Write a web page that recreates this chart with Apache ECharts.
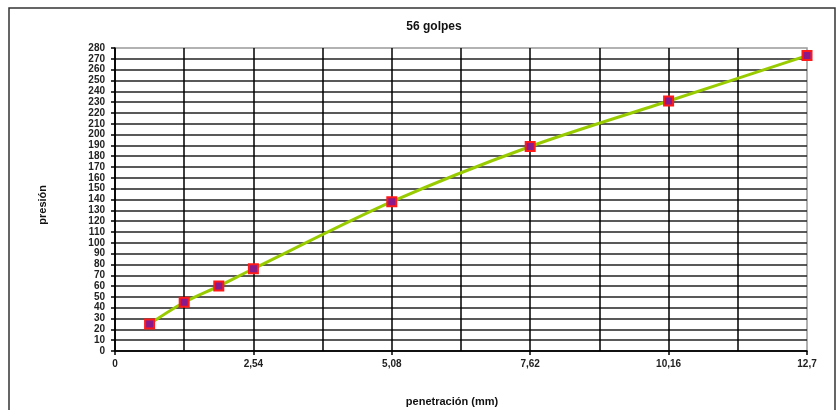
<!DOCTYPE html>
<html>
<head>
<meta charset="utf-8">
<script src="https://cdn.jsdelivr.net/npm/echarts@6/dist/echarts.min.js"></script>
<style>
  html, body { margin: 0; padding: 0; background: #fff; }
  #chart { width: 840px; height: 410px; }
</style>
</head>
<body>
<div id="chart"></div>
<script>
// Penetration (mm) vs pressure, 56 blows
const penetracion = [0.635, 1.27, 1.905, 2.54, 5.08, 7.62, 10.16, 12.7];
const presion = [25, 45, 60, 76, 138, 189, 231, 273];
const xTickLabels = ['0', '2,54', '5,08', '7,62', '10,16', '12,7'];
const xLabelStep = 2.54;

const FONT = '"Liberation Sans", Arial, sans-serif';

const chart = echarts.init(document.getElementById('chart'), null, { renderer: 'canvas' });

chart.setOption({
  animation: false,
  backgroundColor: '#fff',
  title: [
    { text: '56 golpes', left: 429, top: 16, textAlign: 'center',
      textStyle: { fontFamily: FONT, fontSize: 12, fontWeight: 'bold', color: '#111' } },
    { text: 'penetración (mm)', left: 447, top: 391, textAlign: 'center',
      textStyle: { fontFamily: FONT, fontSize: 11, fontWeight: 'bold', color: '#111' } }
  ],
  graphic: [
    { type: 'rect', shape: { x: 9, y: 8, width: 826, height: 420 },
      style: { fill: 'none', stroke: '#333', lineWidth: 1.5 }, z: -1 },
    { type: 'text', left: 37, top: 185, rotation: Math.PI / 2,
      style: { text: 'presión', fontFamily: FONT, fontSize: 11, fontWeight: 'bold', fill: '#111' } }
  ],
  grid: { left: 115, right: 33, top: 48, bottom: 59, show: true,
          borderColor: '#999', borderWidth: 1.5, backgroundColor: '#fff' },
  xAxis: {
    type: 'value', min: 0, max: 12.7, interval: xLabelStep,
    axisLine: { lineStyle: { color: '#000', width: 1.5 } },
    axisTick: { show: true, length: 4, lineStyle: { color: '#000', width: 1.5 } },
    minorTick: { show: false, splitNumber: 2 },
    axisLabel: {
      margin: 8, fontFamily: FONT, fontSize: 10, fontWeight: 'bold', color: '#222',
      formatter: function (v) {
        const k = Math.round(v / xLabelStep);
        return xTickLabels[k] !== undefined ? xTickLabels[k] : '';
      }
    },
    splitLine: { show: true, showMaxLine: false, lineStyle: { color: '#000', width: 1.5 } },
    minorSplitLine: { show: true, lineStyle: { color: '#000', width: 1.5 } }
  },
  yAxis: {
    type: 'value', min: 0, max: 280, interval: 10,
    axisLine: { show: true, lineStyle: { color: '#000', width: 1.5 } },
    axisTick: { show: true, length: 4, lineStyle: { color: '#000', width: 1.5 } },
    axisLabel: { margin: 10, fontFamily: FONT, fontSize: 10, fontWeight: 'bold', color: '#222',
                 lineHeight: 10 },
    splitLine: { show: true, showMaxLine: false, lineStyle: { color: '#222', width: 1.5 } }
  },
  series: [{
    type: 'line',
    data: penetracion.map((x, i) => [x, presion[i]]),
    smooth: 0.3,
    symbol: 'rect',
    symbolSize: 9,
    showAllSymbol: true,
    lineStyle: { color: '#99cc00', width: 3 },
    itemStyle: { color: '#8a1a8a', borderColor: '#ff1a1a', borderWidth: 2 },
    z: 3
  }]
});
</script>
</body>
</html>
